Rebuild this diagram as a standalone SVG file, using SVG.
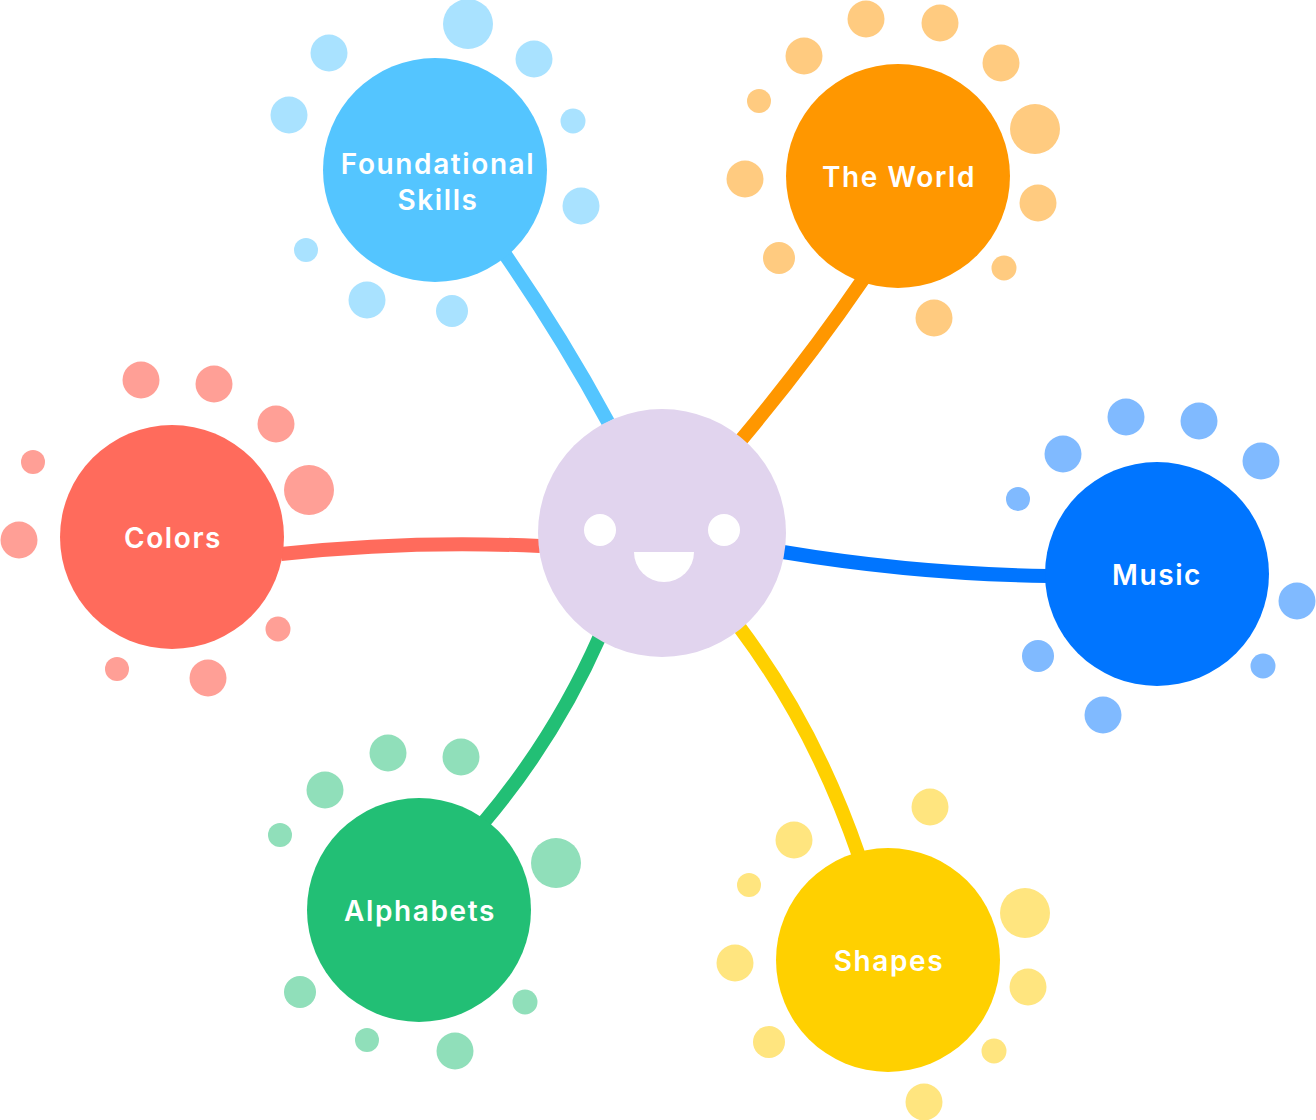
<svg xmlns="http://www.w3.org/2000/svg" width="1316" height="1120" viewBox="0 0 1316 1120">
<style>
.c{fill:none;stroke-width:14}
.l{font-family:Inter,"Open Sans",sans-serif;font-size:28px;font-weight:600;fill:#fff;text-anchor:middle;letter-spacing:1.6px}
.f{fill:#fff}
.b circle{fill:#54C5FF}.b .d{fill:#A9E2FF}
.o circle{fill:#FF9700}.o .d{fill:#FFCB80}
.m circle{fill:#0075FF}.m .d{fill:#80BAFF}
.y circle{fill:#FFD000}.y .d{fill:#FFE57F}
.g circle{fill:#22BF75}.g .d{fill:#90DFBA}
.r circle{fill:#FF6B5C}.r .d{fill:#FF9F96}
</style>
<g id="connectors">
<path class="c" stroke="#54C5FF" d="M504 253Q562 337 608 422"/>
<path class="c" stroke="#FF9700" d="M864 278Q808 360 741 440"/>
<path class="c" stroke="#0075FF" d="M783 552Q915 574 1048 576"/>
<path class="c" stroke="#FFD000" d="M740 628Q815 728 859 856"/>
<path class="c" stroke="#22BF75" d="M600 636Q555 738 484 822"/>
<path class="c" stroke="#FF6B5C" d="M540 546Q410 540 281 554"/>
</g>
<g id="center">
<circle cx="662" cy="533" r="124" fill="#E1D4EE"/>
<circle class="f" cx="600" cy="530" r="16"/>
<circle class="f" cx="724" cy="530" r="16"/>
<path class="f" d="M634 552H694A30 30 0 0 1 634 552Z"/>
</g>
<g id="foundational" class="b">
<circle cx="435" cy="170" r="112"/>
<circle class="d" cx="468" cy="24" r="25"/><circle class="d" cx="329" cy="53" r="18.500"/><circle class="d" cx="534" cy="59" r="18.500"/><circle class="d" cx="289" cy="115" r="18.500"/><circle class="d" cx="573" cy="121" r="12.500"/><circle class="d" cx="581" cy="206" r="18.500"/><circle class="d" cx="306" cy="250" r="12"/><circle class="d" cx="367" cy="300" r="18.500"/><circle class="d" cx="452" cy="311" r="16"/>
<text class="l" x="438" y="174">Foundational</text><text class="l" x="438" y="210">Skills</text>
</g>
<g id="world" class="o">
<circle cx="898" cy="176" r="112"/>
<circle class="d" cx="866" cy="19" r="18.500"/><circle class="d" cx="940" cy="23" r="18.500"/><circle class="d" cx="804" cy="56" r="18.500"/><circle class="d" cx="1001" cy="63" r="18.500"/><circle class="d" cx="759" cy="101" r="12"/><circle class="d" cx="1035" cy="129" r="25"/><circle class="d" cx="745" cy="179" r="18.500"/><circle class="d" cx="1038" cy="203" r="18.500"/><circle class="d" cx="779" cy="258" r="16"/><circle class="d" cx="1004" cy="268" r="12.500"/><circle class="d" cx="934" cy="318" r="18.500"/>
<text class="l" x="899" y="187">The World</text>
</g>
<g id="music" class="m">
<circle cx="1157" cy="574" r="112"/>
<circle class="d" cx="1126" cy="417" r="18.500"/><circle class="d" cx="1199" cy="421" r="18.500"/><circle class="d" cx="1063" cy="454" r="18.500"/><circle class="d" cx="1261" cy="461" r="18.500"/><circle class="d" cx="1018" cy="499" r="12"/><circle class="d" cx="1297" cy="601" r="18.500"/><circle class="d" cx="1038" cy="656" r="16"/><circle class="d" cx="1263" cy="666" r="12.500"/><circle class="d" cx="1103" cy="715" r="18.500"/>
<text class="l" x="1157" y="585">Music</text>
</g>
<g id="shapes" class="y">
<circle cx="888" cy="960" r="112"/>
<circle class="d" cx="930" cy="807" r="18.500"/><circle class="d" cx="794" cy="840" r="18.500"/><circle class="d" cx="749" cy="885" r="12"/><circle class="d" cx="1025" cy="913" r="25"/><circle class="d" cx="735" cy="963" r="18.500"/><circle class="d" cx="1028" cy="987" r="18.500"/><circle class="d" cx="769" cy="1042" r="16"/><circle class="d" cx="994" cy="1051" r="12.500"/><circle class="d" cx="924" cy="1102" r="18.500"/>
<text class="l" x="889" y="971">Shapes</text>
</g>
<g id="alphabets" class="g">
<circle cx="419" cy="910" r="112"/>
<circle class="d" cx="388" cy="753" r="18.500"/><circle class="d" cx="461" cy="757" r="18.500"/><circle class="d" cx="325" cy="790" r="18.500"/><circle class="d" cx="280" cy="835" r="12"/><circle class="d" cx="556" cy="863" r="25"/><circle class="d" cx="300" cy="992" r="16"/><circle class="d" cx="525" cy="1002" r="12.500"/><circle class="d" cx="367" cy="1040" r="12"/><circle class="d" cx="455" cy="1051" r="18.500"/>
<text class="l" x="420" y="921">Alphabets</text>
</g>
<g id="colors" class="r">
<circle cx="172" cy="537" r="112"/>
<circle class="d" cx="141" cy="380" r="18.500"/><circle class="d" cx="214" cy="384" r="18.500"/><circle class="d" cx="276" cy="424" r="18.500"/><circle class="d" cx="33" cy="462" r="12"/><circle class="d" cx="309" cy="490" r="25"/><circle class="d" cx="19" cy="540" r="18.500"/><circle class="d" cx="278" cy="629" r="12.500"/><circle class="d" cx="117" cy="669" r="12"/><circle class="d" cx="208" cy="678" r="18.500"/>
<text class="l" x="173" y="548">Colors</text>
</g>
</svg>
